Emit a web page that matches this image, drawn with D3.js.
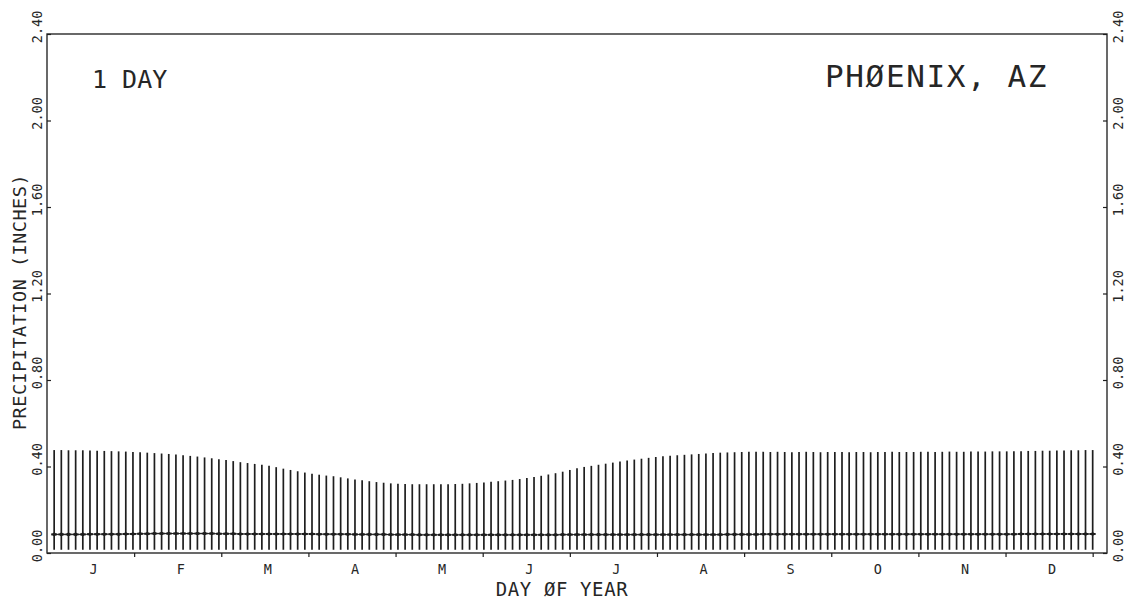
<!DOCTYPE html>
<html>
<head>
<meta charset="utf-8">
<script src="https://cdn.jsdelivr.net/npm/d3@7"></script>
<style>
  html, body { margin: 0; padding: 0; background: #fff; }
  svg { display: block; }
  text { font-family: "DejaVu Sans Mono", "Liberation Mono", monospace; fill: #262626; }
</style>
</head>
<body>
<svg id="chart" width="1134" height="599"></svg>
<script>
// ---------------- DATA ----------------
const monthLabels = ["J","F","M","A","M","J","J","A","S","O","N","D"];
const yTickValues = [0.00, 0.40, 0.80, 1.20, 1.60, 2.00, 2.40];
const yTickLabels = ["0.00","0.40","0.80","1.20","1.60","2.00","2.40"];
// one bar every 2.5 days (146 bars)
const barDays = d3.range(1, 147).map(k => 2.5 * k);
// upper end of each bar (inches)
const maxValues = [
  0.476,0.476,0.475,0.475,0.475,0.474,0.473,0.472,0.471,0.470,
  0.469,0.467,0.466,0.464,0.462,0.460,0.458,0.455,0.452,0.449,
  0.446,0.442,0.438,0.434,0.430,0.425,0.420,0.416,0.412,0.408,
  0.403,0.397,0.390,0.384,0.378,0.372,0.367,0.362,0.358,0.355,
  0.350,0.345,0.340,0.336,0.332,0.328,0.325,0.322,0.320,0.319,
  0.318,0.318,0.318,0.318,0.318,0.318,0.319,0.320,0.322,0.324,
  0.326,0.329,0.332,0.335,0.338,0.342,0.347,0.352,0.357,0.363,
  0.369,0.376,0.384,0.392,0.398,0.403,0.408,0.413,0.418,0.423,
  0.428,0.432,0.436,0.440,0.444,0.447,0.450,0.452,0.454,0.456,
  0.458,0.460,0.462,0.464,0.465,0.466,0.467,0.468,0.468,0.468,
  0.467,0.468,0.467,0.466,0.467,0.468,0.467,0.466,0.467,0.467,
  0.467,0.466,0.467,0.467,0.466,0.467,0.467,0.468,0.467,0.467,
  0.467,0.468,0.468,0.467,0.468,0.469,0.468,0.468,0.469,0.469,
  0.469,0.470,0.470,0.470,0.471,0.471,0.472,0.472,0.473,0.473,
  0.474,0.474,0.475,0.475,0.476,0.476
];
// lower end of each bar (inches)
const minValue = 0.015;
// mean marker of each bar (inches)
const meanValues = [
  0.086,0.086,0.086,0.086,0.086,0.087,0.087,0.087,0.087,0.087,
  0.088,0.088,0.089,0.089,0.090,0.090,0.090,0.090,0.090,0.090,
  0.090,0.090,0.090,0.089,0.089,0.089,0.088,0.088,0.088,0.088,
  0.088,0.088,0.088,0.088,0.088,0.088,0.088,0.087,0.087,0.087,
  0.087,0.087,0.086,0.086,0.086,0.086,0.086,0.085,0.085,0.085,
  0.085,0.084,0.084,0.084,0.084,0.084,0.084,0.084,0.084,0.084,
  0.084,0.084,0.084,0.084,0.084,0.084,0.084,0.084,0.084,0.084,
  0.084,0.085,0.085,0.085,0.085,0.085,0.085,0.085,0.085,0.085,
  0.085,0.085,0.085,0.085,0.085,0.085,0.085,0.085,0.085,0.085,
  0.085,0.085,0.085,0.085,0.086,0.086,0.086,0.086,0.086,0.087,
  0.087,0.087,0.087,0.087,0.087,0.087,0.087,0.087,0.087,0.087,
  0.087,0.087,0.087,0.087,0.087,0.087,0.087,0.087,0.087,0.087,
  0.087,0.087,0.087,0.087,0.087,0.087,0.087,0.087,0.087,0.087,
  0.087,0.087,0.087,0.087,0.087,0.088,0.088,0.088,0.088,0.088,
  0.088,0.088,0.088,0.088,0.088,0.088
];
const titleLeft = "1 DAY";
const titleRight = "PHØENIX, AZ";
const xTitle = "DAY ØF YEAR";
const yTitle = "PRECIPITATION (INCHES)";

// ---------------- CHART ----------------
const svg = d3.select("#chart");
const L = 47, R = 1107, T = 34, B = 553;
const daysPerMonth = 365 / 12;

const x = d3.scaleLinear().domain([0, 370]).range([L, R]);
const y = d3.scaleLinear().domain([0, 2.4]).range([B, T]);

const ink = "#1e1e1e";

// bars
const bars = barDays.map((d, i) => ({ day: d, max: maxValues[i], mean: meanValues[i] }));

svg.append("g").selectAll("line").data(bars).join("line")
  .attr("x1", d => x(d.day)).attr("x2", d => x(d.day))
  .attr("y1", y(minValue)).attr("y2", d => y(d.max))
  .attr("stroke", ink).attr("stroke-width", 1.7);

// mean line
svg.append("path")
  .datum(bars)
  .attr("fill", "none").attr("stroke", ink).attr("stroke-width", 1)
  .attr("d", d3.line().x(d => x(d.day)).y(d => y(d.mean)));

// mean markers
const mk = svg.append("g").selectAll("g").data(bars).join("g")
  .attr("transform", d => `translate(${x(d.day)},${y(d.mean)})`);
mk.append("line").attr("x1", -3).attr("x2", 3).attr("y1", 0).attr("y2", 0)
  .attr("stroke", ink).attr("stroke-width", 2);
mk.append("circle").attr("r", 1.8).attr("fill", ink);

// frame
svg.append("rect")
  .attr("x", L).attr("y", T).attr("width", R - L).attr("height", B - T)
  .attr("fill", "none").attr("stroke", "#2a2a2a").attr("stroke-width", 1.4);

// left axis (inward ticks)
const yAxisL = d3.axisRight(y).tickValues(yTickValues).tickSize(4).tickFormat("");
svg.append("g").attr("transform", `translate(${L},0)`).call(yAxisL)
  .call(g => g.select(".domain").remove())
  .call(g => g.selectAll("line").attr("stroke", ink).attr("stroke-width", 1.2));
// right axis (inward ticks)
const yAxisR = d3.axisLeft(y).tickValues(yTickValues).tickSize(4).tickFormat("");
svg.append("g").attr("transform", `translate(${R},0)`).call(yAxisR)
  .call(g => g.select(".domain").remove())
  .call(g => g.selectAll("line").attr("stroke", ink).attr("stroke-width", 1.2));

// y tick labels, rotated
function yLabels(cx) {
  svg.append("g").selectAll("text").data(yTickValues).join("text")
    .attr("transform", (d) => `translate(${cx},${y(d) - 7}) rotate(-90)`)
    .attr("text-anchor", "middle").attr("dominant-baseline", "central")
    .attr("font-size", 13.5)
    .text((d, i) => yTickLabels[i]);
}
yLabels(37);
yLabels(1118);

// x axis month ticks (outward)
const monthBounds = d3.range(1, 13).map(k => k * daysPerMonth);
const xAxis = d3.axisBottom(x).tickValues(monthBounds).tickSize(4).tickFormat("");
svg.append("g").attr("transform", `translate(0,${B})`).call(xAxis)
  .call(g => g.select(".domain").remove())
  .call(g => g.selectAll("line").attr("stroke", ink).attr("stroke-width", 1.2));

// month labels
svg.append("g").selectAll("text").data(monthLabels).join("text")
  .attr("x", (d, i) => x((i + 0.5) * daysPerMonth) + 3)
  .attr("y", 574)
  .attr("text-anchor", "middle")
  .attr("font-size", 13.5)
  .text(d => d);

// axis titles
svg.append("text")
  .attr("x", 562).attr("y", 596)
  .attr("text-anchor", "middle").attr("font-size", 19)
  .attr("letter-spacing", 0.6)
  .text(xTitle);

svg.append("text")
  .attr("transform", "translate(19,302) rotate(-90)")
  .attr("text-anchor", "middle").attr("dominant-baseline", "central")
  .attr("font-size", 18.5).attr("letter-spacing", 0.5)
  .text(yTitle);

// in-plot titles
svg.append("text")
  .attr("x", 92).attr("y", 88)
  .attr("font-size", 25)
  .text(titleLeft);

svg.append("text")
  .attr("x", 1048).attr("y", 87)
  .attr("text-anchor", "end")
  .attr("font-size", 31).attr("letter-spacing", 1.6)
  .text(titleRight);
</script>
</body>
</html>
